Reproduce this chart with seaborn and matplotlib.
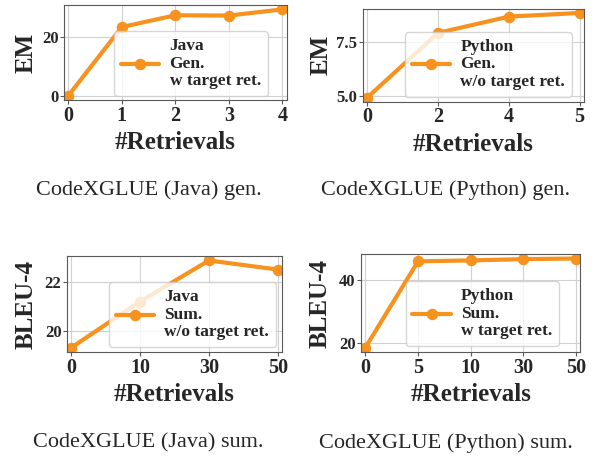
import matplotlib
matplotlib.use('Agg')
import matplotlib.pyplot as plt
import seaborn as sns

# values
JAVA_GEN_X = ['0', '1', '2', '3', '4']
JAVA_GEN_EM = [0.0, 23.3, 27.3, 27.2, 29.3]

PY_GEN_X = ['0', '2', '4', '5']
PY_GEN_EM = [4.9, 7.92, 8.68, 8.85]

JAVA_SUM_X = ['0', '10', '30', '50']
JAVA_SUM_BLEU = [19.34, 21.22, 22.89, 22.52]

PY_SUM_X = ['0', '5', '10', '30', '50']
PY_SUM_BLEU = [18.5, 46.0, 46.3, 46.7, 46.9]

LABELS = ['Java\nGen.\nw target ret.',
          'Python\nGen.\nw/o target ret.',
          'Java\nSum.\nw/o target ret.',
          'Python\nSum.\nw target ret.']
Y_NAMES = ['EM', 'EM', 'BLEU-4', 'BLEU-4']
Y_TICKS = [[0, 20], [5.0, 7.5], [20, 22], [20, 40]]
CAPTIONS = ['CodeXGLUE (Java) gen.', 'CodeXGLUE (Python) gen.',
            'CodeXGLUE (Java) sum.', 'CodeXGLUE (Python) sum.']

ORANGE = '#f8921e'

sns.set_style('whitegrid', {'axes.edgecolor': '0.35', 'grid.color': '0.82',
                            'xtick.bottom': True, 'ytick.left': True})
plt.rcParams['font.family'] = ['Liberation Serif', 'DejaVu Serif']
plt.rcParams['font.weight'] = 'bold'

fig = plt.figure(figsize=(5.94, 4.59), dpi=100)

# axes rectangles (figure fraction) and legend anchors (axes fraction)
rects = [
    [0.1077, 0.782, 0.375, 0.207],
    [0.611, 0.778, 0.372, 0.203],
    [0.1128, 0.233, 0.362, 0.209],
    [0.608, 0.233, 0.369, 0.2135],
]
anchors = [(0.915, 0.042), (0.946, 0.054), (0.972, 0.052), (0.904, 0.061)]

series = [
    (JAVA_GEN_X, JAVA_GEN_EM),
    (PY_GEN_X, PY_GEN_EM),
    (JAVA_SUM_X, JAVA_SUM_BLEU),
    (PY_SUM_X, PY_SUM_BLEU),
]

for i, (xs, ys) in enumerate(series):
    ax = fig.add_axes(rects[i])
    sns.pointplot(x=xs, y=ys, order=xs, color=ORANGE, errorbar=None,
                  markers='o', linestyles='-', linewidth=3, markersize=6,
                  label=LABELS[i], ax=ax)
    n = len(xs)
    pad = 0.02 * (n - 1)
    ax.set_xlim(-pad, n - 1 + pad)
    ax.set_yticks(Y_TICKS[i])
    ax.grid(True, color='0.82', linewidth=0.8)
    ax.set_axisbelow(True)
    ax.tick_params(axis='x', labelsize=14.5, length=3, pad=1, color='0.35')
    ax.tick_params(axis='y', labelsize=12, length=3, pad=1, color='0.35')
    for lab in ax.get_xticklabels() + ax.get_yticklabels():
        lab.set_fontweight('bold')
    ax.set_xlabel('#Retrievals', fontsize=18, fontweight='bold', labelpad=4)
    ax.set_ylabel(Y_NAMES[i], fontsize=18, fontweight='bold',
                  labelpad=3 if i < 2 else 5)
    leg = ax.legend(loc='lower right', bbox_to_anchor=anchors[i],
                    borderaxespad=0, prop={'size': 12.5, 'weight': 'bold'},
                    handlelength=2.2, handletextpad=0.6)
    for t in leg.get_texts():
        t.set_linespacing(1.12)

caption_pos = [(0.25, 1 - 190 / 459), (0.75, 1 - 190 / 459),
               (0.25, 1 - 443 / 459), (0.75, 1 - 443 / 459)]
for (cx, cy), text in zip(caption_pos, CAPTIONS):
    fig.text(cx, cy, text, ha='center', va='center', fontsize=16,
             fontweight='normal')

fig.savefig('out.png', dpi=100)
